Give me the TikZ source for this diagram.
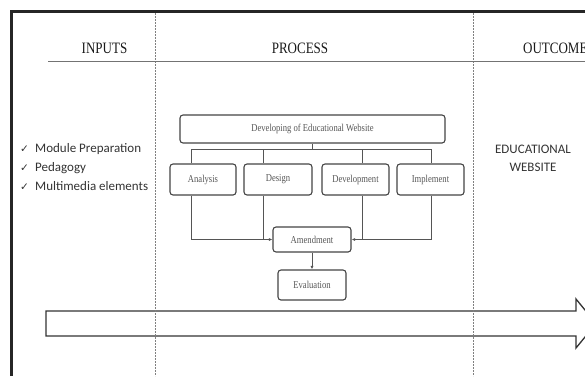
\documentclass[tikz,border=0pt]{standalone}
\usepackage{fontspec}
\usepackage{graphicx}
\setmainfont{Liberation Serif}
\newfontfamily\calib{Carlito}
\newfontfamily\djv{DejaVu Sans}
\usetikzlibrary{arrows.meta}
\newcommand\talltxt[1]{\scalebox{1}[1.22]{#1}}
\definecolor{boxline}{HTML}{444444}
\definecolor{boxtext}{HTML}{555555}
\definecolor{conn}{HTML}{555555}
\tikzset{
  pbox/.style={draw=boxline, line width=1.1pt, rounded corners=3pt, inner sep=0pt,
    text=boxtext, font=\fontsize{8.6}{10}\selectfont, align=center},
  conline/.style={draw=conn, line width=0.7pt},
  arr/.style={conline, -{Latex[length=3.5pt,width=3pt]}},
  header/.style={font=\fontsize{13}{15}\selectfont, text=black!90, inner sep=0pt},
  listtxt/.style={font=\calib\fontsize{13}{15}\selectfont, text=black!80, inner sep=0pt},
  chk/.style={font=\djv\bfseries\fontsize{10.5}{12}\selectfont, text=black!80, inner sep=0pt, anchor=base west},
  divider/.style={draw=black!50, line width=0.8pt, dash pattern=on 1.6pt off 1.4pt},
}
\begin{document}
\begin{tikzpicture}[x=1pt, y=-1pt]
\useasboundingbox (0,0) rectangle (585,376);
\clip (0,0) rectangle (585,376);
% big arrow
\draw[line width=1.3pt, draw=black!80] (46,311) -- (576,311) -- (576,299) -- (596,323.5) -- (576,348) -- (576,336) -- (46,336) -- cycle;
% dividers
\draw[divider] (155,13) -- (155,376);
\draw[divider] (473,13) -- (473,376);
% header line
\draw[draw=black!55, line width=0.9pt] (48,61) -- (585,61);
% frame
\draw[line width=3pt, draw=black!85] (11.3,376) -- (11.3,11.8) -- (585,11.8);
% headers
\node[header, anchor=base] (hin) at (104.5,53) {\talltxt{INPUTS}};
\node[header, anchor=base] (hpr) at (300,53) {\talltxt{PROCESS}};
\node[header, anchor=base west] (hout) at (523,53) {\talltxt{OUTCOME}};
% inputs list
\node[chk] (c1) at (20,152.5) {✓};
\node[chk] (c2) at (20,171.2) {✓};
\node[chk] (c3) at (20,190) {✓};
\node[listtxt, anchor=base west] (l1) at (35,152.5) {Module Preparation};
\node[listtxt, anchor=base west] (l2) at (35,171.2) {Pedagogy};
\node[listtxt, anchor=base west] (l3) at (35,190) {Multimedia elements};
% outcome
\node[listtxt, anchor=base] (o1) at (533,153) {EDUCATIONAL};
\node[listtxt, anchor=base] (o2) at (533,171) {WEBSITE};
% process boxes
\node[pbox, minimum width=265pt, minimum height=28pt] (top) at (312.5,129) {\talltxt{Developing of Educational Website}};
\node[pbox, minimum width=66pt, minimum height=31pt] (ana) at (203,179.5) {\talltxt{Analysis}};
\node[pbox, minimum width=68pt, minimum height=31pt] (des) at (278,179.5) {\talltxt{Design}};
\node[pbox, minimum width=67pt, minimum height=31pt] (dev) at (355.5,179.5) {\talltxt{Development}};
\node[pbox, minimum width=67pt, minimum height=31pt] (imp) at (430.5,179.5) {\talltxt{Implement}};
\node[pbox, minimum width=78pt, minimum height=25pt] (amd) at (312,239.5) {\talltxt{Amendment}};
\node[pbox, minimum width=68pt, minimum height=30pt] (eva) at (312,285) {\talltxt{Evaluation}};
% bus
\coordinate (b1) at (191,149);
\coordinate (b2) at (263,149);
\coordinate (b3) at (362,149);
\coordinate (b4) at (431,149);
\draw[conline] (b1) -- (b4);
\draw[conline] (top.south) -- (top.south |- b1);
\draw[conline] (b1) -- (b1 |- ana.north);
\draw[conline] (b2) -- (b2 |- des.north);
\draw[conline] (b3) -- (b3 |- dev.north);
\draw[conline] (b4) -- (b4 |- imp.north);
% to amendment
\draw[arr] (b1 |- ana.south) |- (amd.west);
\draw[conline] (b2 |- des.south) -- (b2 |- amd.west);
\draw[arr] (b4 |- imp.south) |- (amd.east);
\draw[conline] (b3 |- dev.south) -- (b3 |- amd.east);
\draw[arr] (amd.south) -- (eva.north);
\end{tikzpicture}
\end{document}
